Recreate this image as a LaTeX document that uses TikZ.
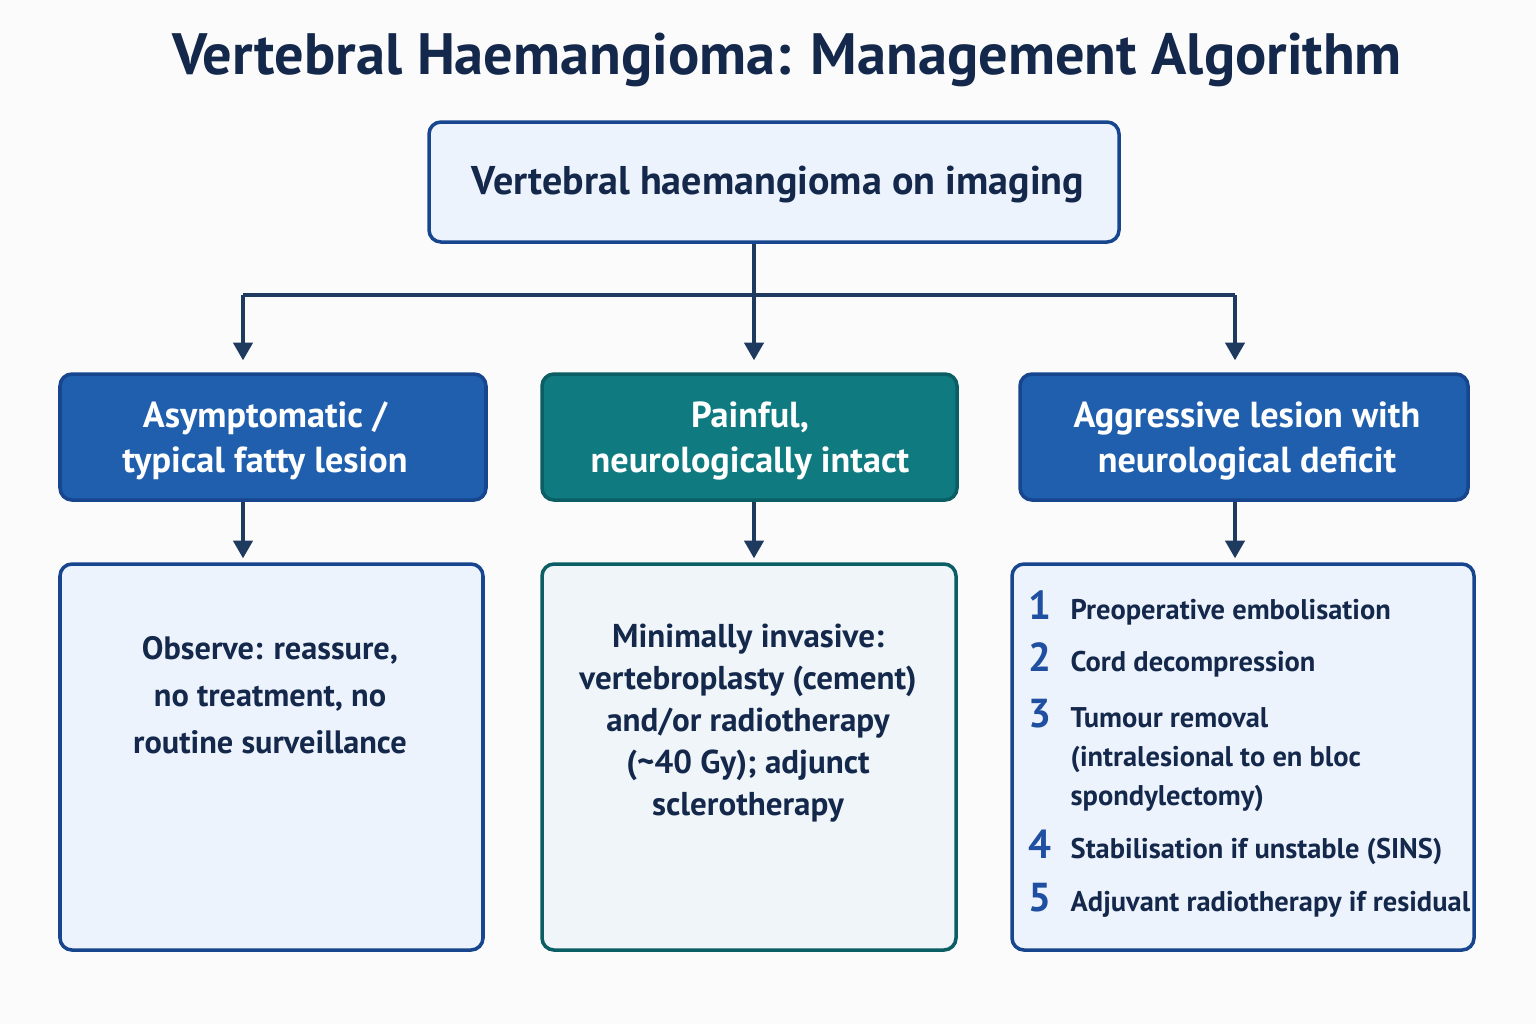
\documentclass[tikz,border=0pt]{standalone}
\usepackage{fontspec}
\setmainfont{PT Sans}
\usetikzlibrary{arrows.meta}
\usetikzlibrary{calc}
\definecolor{navy}{HTML}{14284B}
\definecolor{linenavy}{HTML}{1E3A5F}
\definecolor{bluefill}{HTML}{1F5FAD}
\definecolor{blueline}{HTML}{17468F}
\definecolor{tealfill}{HTML}{0F7B80}
\definecolor{tealline}{HTML}{0B5E63}
\definecolor{paleblue}{HTML}{EDF3FC}
\definecolor{paleteal}{HTML}{EFF5F9}
\definecolor{numblue}{HTML}{1F4FA0}
\definecolor{bgwhite}{HTML}{FBFBFC}

\begin{document}
\begin{tikzpicture}[
  box/.style={draw, line width=1pt, rounded corners=1.2mm, inner sep=0pt},
  headbox/.style={box, draw=blueline, fill=bluefill, minimum height=1.26cm},
  resbox/.style={box, draw=blueline, fill=paleblue, minimum height=3.86cm},
  headtxt/.style={text=white, align=center, font=\bfseries\fontsize{10.3}{12.8}\selectfont},
  bodytxt/.style={text=navy, align=center, font=\bfseries\fontsize{9.2}{13.4}\selectfont},
  arr/.style={draw=linenavy, line width=0.9pt, -{Triangle[length=5pt,width=5.5pt]}}
]
\fill[bgwhite] (0,0) rectangle (15.36,-10.24);
\useasboundingbox (0,0) rectangle (15.36,-10.24);

\node[text=navy, font=\bfseries\fontsize{16.6}{20}\selectfont] (title) at (7.87,-0.60) {Vertebral Haemangioma: Management Algorithm};

\node[box, draw=blueline, fill=paleblue, minimum width=6.9cm, minimum height=1.2cm] (imaging) at (7.74,-1.82) {};
\node[text=navy, font=\bfseries\fontsize{11.4}{14}\selectfont] (imagingtxt) at (7.78,-1.84) {Vertebral haemangioma on imaging};

\node[headbox, minimum width=4.26cm] (asym) at (2.73,-4.37) {};
\node[headbox, draw=tealline, fill=tealfill, minimum width=4.15cm] (pain) at (7.495,-4.37) {};
\node[headbox, minimum width=4.48cm] (aggr) at (12.44,-4.37) {};
\node[headtxt] (asymtxt) at (2.65,-4.41) {Asymptomatic /\\typical fatty lesion};
\node[headtxt] (paintxt) at (7.50,-4.41) {Painful,\\neurologically intact};
\node[headtxt] (aggrtxt) at (12.47,-4.41) {Aggressive lesion with\\neurological deficit};

\node[resbox, minimum width=4.23cm] (observe) at (2.715,-7.57) {};
\node[resbox, draw=tealline, fill=paleteal, minimum width=4.14cm] (minimal) at (7.49,-7.57) {};
\node[resbox, minimum width=4.62cm] (surgery) at (12.43,-7.57) {};

\node[bodytxt] (observetxt) at (2.70,-6.95) {Observe: reassure,\\no treatment, no\\routine surveillance};
\node[bodytxt, font=\bfseries\fontsize{9.4}{12}\selectfont] (minimaltxt) at (7.48,-7.23) {Minimally invasive:\\vertebroplasty (cement)\\and/or radiotherapy\\(\textasciitilde40 Gy); adjunct\\sclerotherapy};

\foreach \n/\y/\t [count=\i] in {1/6.19/{Preoperative embolisation}, 2/6.71/{Cord decompression}, 3/7.27/{Tumour removal}, /7.66/{(intralesional to en bloc}, /8.05/{spondylectomy)}, 4/8.58/{Stabilisation if unstable (SINS)}, 5/9.11/{Adjuvant radiotherapy if residual}} {
  \node[anchor=base, text=numblue, font=\bfseries\fontsize{11.5}{13}\selectfont] (num\i) at (10.40,-\y) {\n};
  \node[anchor=base west, inner sep=0pt, text=navy, font=\bfseries\fontsize{8.1}{11}\selectfont] (item\i) at (10.70,-\y) {\t};
}

\coordinate (col1) at (2.43,0);
\coordinate (col2) at (7.54,0);
\coordinate (col3) at (12.35,0);
\coordinate (split) at (7.54,-2.95);

\draw[linenavy, line width=0.9pt] (imaging.south -| col2) -- (split);
\draw[linenavy, line width=0.9pt] (split -| col1) -- (split -| col3);
\foreach \c/\b in {col1/asym, col2/pain, col3/aggr}
  \draw[arr, shorten >=0.12cm] (split -| \c) -- (\b.north -| \c);
\foreach \c/\a/\b in {col1/asym/observe, col2/pain/minimal, col3/aggr/surgery}
  \draw[arr, shorten >=0.04cm] (\a.south -| \c) -- (\b.north -| \c);
\end{tikzpicture}
\end{document}
